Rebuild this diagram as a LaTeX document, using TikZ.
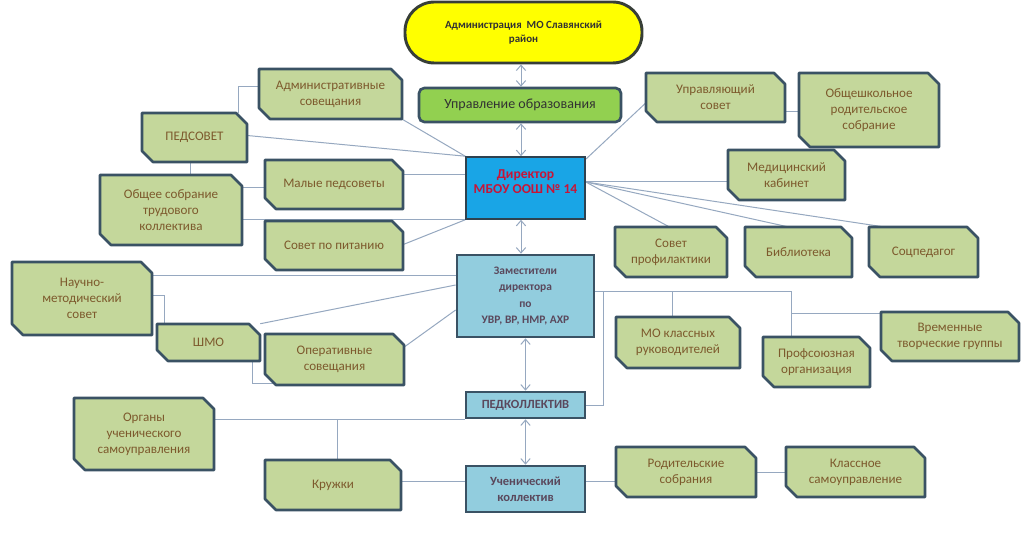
\documentclass[tikz,border=0pt]{standalone}
\usepackage{fontspec}
\setmainfont{Carlito}
\usetikzlibrary{calc,arrows.meta,backgrounds}
\definecolor{gfill}{RGB}{196,215,155}
\definecolor{bord}{RGB}{58,82,100}
\definecolor{gtxt}{RGB}{125,90,45}
\definecolor{lnc}{RGB}{150,168,192}
\definecolor{lblue}{RGB}{146,205,222}
\definecolor{dirblue}{RGB}{25,165,230}
\definecolor{dirtxt}{RGB}{200,20,55}
\definecolor{ztxt}{RGB}{90,72,92}
\definecolor{yel}{RGB}{255,255,0}
\definecolor{yelbord}{RGB}{55,62,55}
\definecolor{upgreen}{RGB}{146,208,80}
\definecolor{uptxt}{RGB}{50,50,50}
\tikzset{
  gshape/.style={draw=bord, fill=gfill, line width=2pt, line join=round},
  gtext/.style={text=gtxt, font=\fontsize{9.8}{12}\selectfont, align=center, inner sep=0pt},
  bbox/.style={draw=bord, fill=lblue, line width=2pt, inner sep=0pt, align=center,
    font=\bfseries\fontsize{8.6}{12.3}\selectfont, text=ztxt},
  conn/.style={draw=lnc, line width=0.75pt},
  dbl/.style={conn, {Straight Barb[length=4pt,width=7pt]}-{Straight Barb[length=4pt,width=7pt]}},
}
\newcommand\gbox[6]{%
  \draw[gshape] ({#2},{#3}) -- ({#4-11},{#3}) -- ({#4},{#3+11}) -- ({#4},{#5}) -- ({#2+11},{#5}) -- ({#2},{#5-11}) -- cycle;
  \node[gtext, minimum width={(#4-#2)*0.75pt}, minimum height={(#5-#3)*0.75pt}] (#1) at ({(#2+#4)/2},{(#3+#5)/2}) {#6};
}
\begin{document}
\begin{tikzpicture}[x=0.75pt,y=-0.75pt]
\useasboundingbox (0,0) rectangle (1024,541);
\begin{pgfonlayer}{background}
\fill[white] (0,0) rectangle (1024,541);
\end{pgfonlayer}

% top
\node[draw=yelbord, fill=yel, line width=2.2pt, rounded corners=22pt, minimum width={237*0.75pt}, minimum height={61*0.75pt},
  inner sep=0pt, align=center, text=uptxt, font=\bfseries\fontsize{8.2}{10}\selectfont] (adm0) at (523.5,32.5)
  {Администрация\ \ МО Славянский\\район};
\node[draw=bord, fill=upgreen, line width=2pt, rounded corners=4pt, minimum width={202*0.75pt}, minimum height={34*0.75pt},
  inner sep=0pt, text=uptxt, font=\fontsize{10.5}{12}\selectfont] (upr) at (520,105) {Управление образования};
\node[draw=bord!80!black, fill=dirblue, line width=1.2pt, minimum width={119*0.75pt}, minimum height={62*0.75pt},
  inner sep=0pt, align=center, text=dirtxt, text depth=10pt, font=\bfseries\fontsize{10.2}{11.3}\selectfont] (dir) at (525.5,188)
  {Директор\\МБОУ ООШ № 14};
\node[bbox, minimum width={137*0.75pt}, minimum height={82*0.75pt}] (zam) at (525.5,296)
  {Заместители\\директора\\по\\УВР, ВР, НМР, АХР};
\node[bbox, minimum width={119*0.75pt}, minimum height={26*0.75pt}, font=\bfseries\fontsize{9.4}{11.3}\selectfont] (pk) at (525.5,405)
  {ПЕДКОЛЛЕКТИВ};
\node[bbox, minimum width={119*0.75pt}, minimum height={46*0.75pt}, font=\bfseries\fontsize{9.4}{12}\selectfont] (uch) at (525.5,489)
  {Ученический\\коллектив};

% green boxes
\gbox{adm}{259}{69}{402}{119}{Административные\\совещания}
\gbox{ped}{142}{113}{247}{162}{ПЕДСОВЕТ}
\gbox{obs}{100}{175}{242}{245}{Общее собрание\\трудового\\коллектива}
\gbox{mal}{265}{160}{403}{209}{Малые педсоветы}
\gbox{pit}{265}{221}{403}{270}{Совет по питанию}
\gbox{ups}{646}{73}{785}{122}{Управляющий\\совет}
\gbox{obr}{799}{73}{939}{147}{Общешкольное\\родительское\\собрание}
\gbox{med}{728}{150}{845}{200}{Медицинский\\кабинет}
\gbox{pro}{615}{227}{727}{277}{Совет\\профилактики}
\gbox{bib}{745}{227}{852}{277}{Библиотека}
\gbox{soc}{869}{227}{978}{277}{Соцпедагог}
\gbox{nms}{12}{262}{152}{335}{Научно-\\методический\\совет}
\gbox{shmo}{157}{324}{260}{361}{ШМО}
\gbox{ope}{265}{334}{404}{385}{Оперативные\\совещания}
\gbox{mok}{616}{317}{740}{368}{МО классных\\руководителей}
\gbox{prf}{763}{337}{870}{387}{Профсоюзная\\организация}
\gbox{vtg}{881}{312}{1019}{361}{Временные\\творческие группы}
\gbox{org}{74}{398}{214}{470}{Органы\\ученического\\самоуправления}
\gbox{kru}{265}{460}{401}{510}{Кружки}
\gbox{rod}{616}{447}{756}{497}{Родительские\\собрания}
\gbox{kls}{786}{447}{925}{497}{Классное\\самоуправление}

\begin{pgfonlayer}{background}
% vertical double arrows
\draw[dbl] (adm0.south -| 521,0) -- (upr.north -| 521,0);
\draw[dbl] (upr.south -| 521,0) -- (dir.north -| 521,0);
\draw[dbl] (dir.south -| 521,0) -- (zam.north -| 521,0);
\draw[dbl] (zam.south) -- (pk.north);
\draw[dbl] (pk.south) -- (uch.north);
% director left side
\draw[conn] (ped.east) ++(0,-2) -- (dir.north west);
\draw[conn] (adm.south east) -- (dir.north west);
\draw[conn] ($(ped.north east)+(-9,0)$) |- ($(adm.north west)!0.36!(adm.south west)$);
\draw[conn] ($(ped.south)+(-4,0)$) coordinate (t1) -- (t1 |- obs.north);
\draw[conn] ($(mal.west)+(0,3.5)$) coordinate (t2) -- (t2 -| obs.east);
\draw[conn] (dir.south west) -- (dir.south west -| obs.east);
\draw[conn] ($(mal.east)+(0,-10)$) coordinate (t3) -- (t3 -| dir.west);
\draw[conn] (pit.east) ++(0,-1) -- (dir.south west);
% director right side
\draw[conn] ($(dir.north east)+(0,3)$) -- ($(ups.west)+(0,5.5)$);
\draw[conn] ($(ups.east)+(0,14.5)$) coordinate (t4) -- (t4 -| obr.west);
\coordinate (R) at ($(dir.east)+(0,-6)$);
\draw[conn] (R) -- (R -| med.west);
\draw[conn] (R) -- ($(pro.north)+(-2,0)$);
\draw[conn] (R) -- ($(bib.north)+(-11,0)$);
\draw[conn] (R) -- ($(soc.north west)+(14,0)$);
% deputies left
\draw[conn] ($(nms.north east)+(0,14)$) coordinate (t5) -- (t5 -| zam.west);
\draw[conn] ($(nms.east)+(0,-2.5)$) -| ($(shmo.north west)+(8,0)$);
\draw[conn] (shmo.north east) -- ($(zam.west)+(0,-11)$);
\draw[conn] ($(ope.east)+(0,-12.5)$) -- ($(zam.west)+(0,14)$);
\draw[conn] ($(shmo.south east)+(-8,0)$) |- ($(ope.south west)+(9,-2)$);
% deputies right bus
\coordinate (B0) at ($(zam.east)+(0,-4)$);
\coordinate (B1) at ($(prf.north west)+(29,0)$);
\draw[conn] (B0) -- (B0 -| B1) -- (B1);
\draw[conn] ($(mok.north)+(-6,0)$) coordinate (t6) -- (t6 |- B0);
\draw[conn] ($(vtg.north west)+(0,1.5)$) coordinate (t7) -- (t7 -| B1);
\draw[conn] (B0 -| 603,0) |- (pk.east);
% bottom
\draw[conn] (pk.south west) -- (pk.south west -| org.east);
\draw[conn] ($(kru.north)+(4,0)$) coordinate (t8) -- (t8 |- pk.south west);
\draw[conn] ($(kru.east)+(0,-4)$) coordinate (t9) -- (t9 -| uch.west);
\draw[conn] ($(uch.east)+(0,-8)$) coordinate (t10) -- (t10 -| rod.west);
\draw[conn] (rod.east) -- (kls.west);
\end{pgfonlayer}
\end{tikzpicture}
\end{document}
